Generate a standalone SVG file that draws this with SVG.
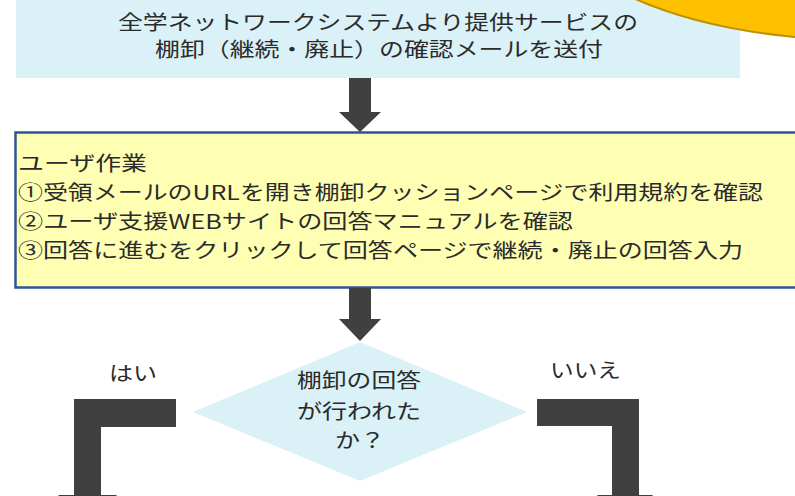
<svg xmlns="http://www.w3.org/2000/svg" width="795" height="496" viewBox="0 0 795 496">
<style>
.t{font-family:"Noto Sans CJK JP","Noto Sans",sans-serif;font-size:20px;fill:#2b2b2b}
.c{text-anchor:middle}
.arr{fill:#404040}
.cyan{fill:#daf1f7}
</style>
<g id="node-send">
<rect class="cyan" x="16" y="-2" width="724" height="80"/>
<text class="t c" x="378" y="30" textLength="520" lengthAdjust="spacingAndGlyphs">全学ネットワークシステムより提供サービスの</text>
<text class="t c" x="379" y="57" textLength="448" lengthAdjust="spacingAndGlyphs">棚卸（継続・廃止）の確認メールを送付</text>
</g>
<g id="bubble">
<path d="M633,-2 Q700,28 795,37 L795,-2 Z" fill="#ffc000"/>
<path d="M633,-2 Q700,28 795,37" fill="none" stroke="#bf9000" stroke-width="2"/>
</g>
<g id="node-user">
<rect x="15.5" y="132.5" width="790" height="155" fill="#ffffb4" stroke="#2f5597" stroke-width="2.5"/>
<text class="t" x="18" y="171" textLength="129" lengthAdjust="spacingAndGlyphs">ユーザ作業</text>
<text class="t" x="18" y="200" textLength="745" lengthAdjust="spacingAndGlyphs">①受領メールのURLを開き棚卸クッションページで利用規約を確認</text>
<text class="t" x="18" y="229" textLength="555" lengthAdjust="spacingAndGlyphs">②ユーザ支援WEBサイトの回答マニュアルを確認</text>
<text class="t" x="18" y="258" textLength="725" lengthAdjust="spacingAndGlyphs">③回答に進むをクリックして回答ページで継続・廃止の回答入力</text>
</g>
<g id="node-decision">
<polygon class="cyan" points="360,342 527,412 360,481 193,412"/>
<text class="t c" x="359" y="388" textLength="124" lengthAdjust="spacingAndGlyphs">棚卸の回答</text>
<text class="t c" x="359" y="419" textLength="124" lengthAdjust="spacingAndGlyphs">が行われた</text>
<text class="t c" x="360" y="448" textLength="50" lengthAdjust="spacingAndGlyphs">か？</text>
</g>
<g id="connectors">
<polygon class="arr" points="349,78 371,78 371,112 381,112 360,132 339,112 349,112"/>
<polygon class="arr" points="349,288 371,288 371,319 381,319 360,341 339,319 349,319"/>
<polygon class="arr" points="176,399 176,427 101,427 101,495 117,495 87.5,525 58,495 74,495 74,399"/>
<polygon class="arr" points="537,399 537,426 612,426 612,495 597,495 625.5,525 653,495 639,495 639,399"/>
<text class="t" x="109" y="381" textLength="48" lengthAdjust="spacingAndGlyphs">はい</text>
<text class="t" x="550" y="378" textLength="71" lengthAdjust="spacingAndGlyphs">いいえ</text>
</g>
</svg>
